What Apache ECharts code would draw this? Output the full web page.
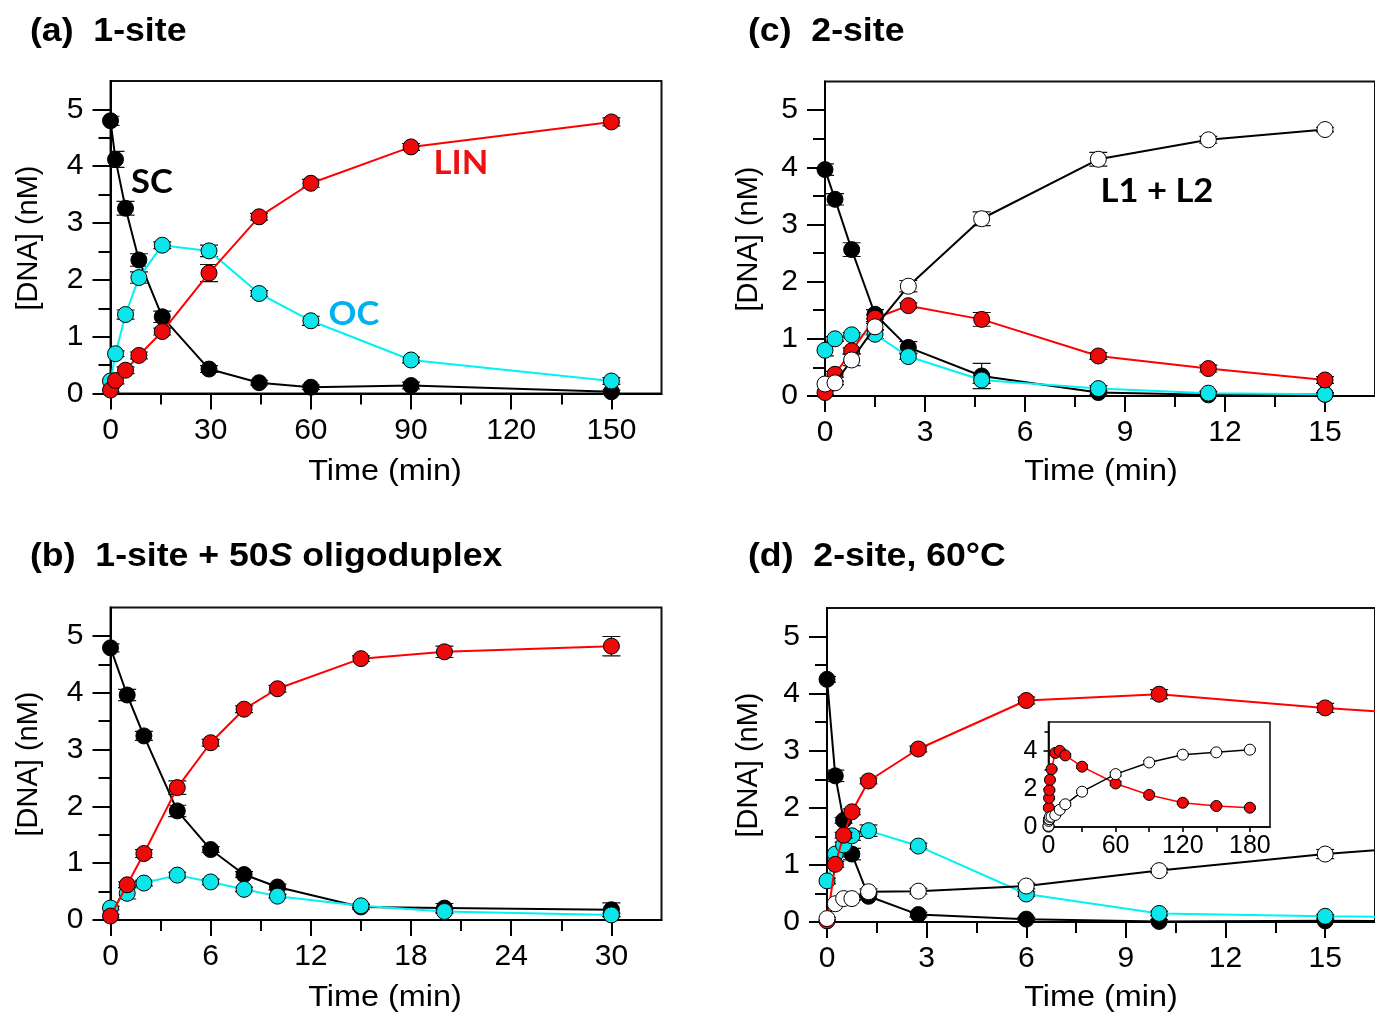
<!DOCTYPE html>
<html><head><meta charset="utf-8">
<script src="https://cdn.jsdelivr.net/npm/echarts@6/dist/echarts.min.js"></script>
<style>html,body{margin:0;padding:0;background:#fff}#c{width:1375px;height:1016px}</style>
</head><body><div id="c"></div>
<script>
// ---------------- DATA ----------------
// (a) 1-site
const tA   = [0, 1.5, 4.5, 8.5, 15.5, 29.5, 44.5, 60, 90, 150];
const scA  = [4.80, 4.12, 3.26, 2.35, 1.35, 0.43, 0.19, 0.11, 0.14, 0.03];
const scAErr = [0.08, 0.14, 0.12, 0.11, 0.10, 0.06, 0.04, 0.04, 0.06, 0.03];
const ocA  = [0.22, 0.70, 1.39, 2.04, 2.61, 2.51, 1.76, 1.28, 0.59, 0.22];
const ocAErr = [0.03, 0.05, 0.08, 0.10, 0.06, 0.10, 0.05, 0.08, 0.05, 0.06];
const linA = [0.06, 0.23, 0.41, 0.67, 1.09, 2.12, 3.11, 3.70, 4.34, 4.78];
const linAErr = [0.03, 0.06, 0.06, 0.06, 0.06, 0.15, 0.06, 0.07, 0.06, 0.07];
// (b) 1-site + 50S oligoduplex
const tB   = [0, 1, 2, 4, 6, 8, 10, 15, 20, 30];
const scB  = [4.79, 3.96, 3.24, 1.92, 1.24, 0.80, 0.58, 0.23, 0.21, 0.18];
const scBErr = [0.07, 0.10, 0.08, 0.10, 0.05, 0.05, 0.05, 0.04, 0.08, 0.12];
const ocB  = [0.21, 0.47, 0.65, 0.79, 0.67, 0.54, 0.42, 0.25, 0.15, 0.09];
const ocBErr = [0.03, 0.10, 0.05, 0.05, 0.05, 0.04, 0.03, 0.03, 0.03, 0.03];
const linB = [0.07, 0.62, 1.17, 2.33, 3.12, 3.71, 4.07, 4.60, 4.72, 4.82];
const linBErr = [0.03, 0.05, 0.07, 0.12, 0.06, 0.06, 0.06, 0.05, 0.10, 0.17];
// (c) 2-site
const tC   = [0, 0.3, 0.8, 1.5, 2.5, 4.7, 8.2, 11.5, 15];
const scC  = [3.96, 3.44, 2.56, 1.43, 0.85, 0.35, 0.06, 0.02, 0.03];
const scCErr = [0.10, 0.10, 0.12, 0.08, 0.10, 0.22, 0.04, 0.03, 0.03];
const ocC  = [0.80, 1.00, 1.07, 1.08, 0.69, 0.28, 0.13, 0.05, 0.03];
const ocCErr = [0.10, 0.04, 0.04, 0.08, 0.05, 0.06, 0.05, 0.03, 0.03];
const linC = [0.06, 0.38, 0.79, 1.36, 1.58, 1.34, 0.70, 0.48, 0.28];
const linCErr = [0.03, 0.05, 0.05, 0.06, 0.05, 0.12, 0.06, 0.06, 0.06];
const l12C = [0.21, 0.23, 0.63, 1.21, 1.92, 3.10, 4.14, 4.48, 4.66];
const l12CErr = [0.03, 0.03, 0.10, 0.06, 0.10, 0.12, 0.12, 0.06, 0.04];
// (d) 2-site, 60°C (main panel shows 0-16.5 min, inset shows 0-180 min)
const tD   = [0, 0.25, 0.5, 0.75, 1.25, 2.75, 6, 10, 15, 30, 60, 90, 120, 150, 180];
const scD  = [4.25, 2.56, 1.78, 1.19, 0.45, 0.13, 0.05, 0.01, 0.02, 0.01];
const scDErr = [0.05, 0.10, 0.05, 0.10, 0.05, 0.04, 0.03, 0.03, 0.03, 0.03];
const ocD  = [0.72, 1.19, 1.35, 1.51, 1.60, 1.33, 0.49, 0.15, 0.10, 0.02];
const ocDErr = [0.05, 0.05, 0.05, 0.08, 0.10, 0.05, 0.04, 0.04, 0.03, 0.03];
const linD = [0.02, 1.01, 1.52, 1.93, 2.47, 3.03, 3.88, 3.99, 3.75, 3.16, 2.28, 1.68, 1.27, 1.10, 1.01];
const linDErr = [0.02, 0.05, 0.05, 0.05, 0.05, 0.05, 0.06, 0.08, 0.08, 0.08, 0.10, 0.08, 0.06, 0.05, 0.05];
const l12D = [0.06, 0.32, 0.41, 0.41, 0.53, 0.54, 0.63, 0.90, 1.19, 1.85, 2.77, 3.38, 3.79, 3.91, 4.05];
const l12DErr = [0.02, 0.03, 0.03, 0.03, 0.05, 0.05, 0.05, 0.04, 0.08, 0.06, 0.10, 0.10, 0.06, 0.05, 0.05];

// tick labels
const yMajor = [0, 1, 2, 3, 4, 5];
const yMinor = [0.5, 1.5, 2.5, 3.5, 4.5];
const xMajorA = [0, 30, 60, 90, 120, 150];
const xMinorA = [15, 45, 75, 105, 135];
const xMajorB = [0, 6, 12, 18, 24, 30];
const xMinorB = [3, 9, 15, 21, 27];
const xMajorCD = [0, 3, 6, 9, 12, 15];
const xMinorCD = [1.5, 4.5, 7.5, 10.5, 13.5];
const xMajorIn = [0, 60, 120, 180];
const xMinorIn = [30, 90, 150];
const yMajorIn = [0, 2, 4];
const yMinorIn = [1, 3, 5];

// ---------------- BUILD ----------------
const FONT = 'Liberation Sans';
const COL = {
  sc:  {line: '#000000', fill: '#000000'},
  oc:  {line: '#00f2f2', fill: '#0ae6ea'},
  lin: {line: '#ff0000', fill: '#ee0a0a'},
  l12: {line: '#000000', fill: '#ffffff'}
};
const grids = [], xAxes = [], yAxes = [], series = [], graphics = [];

function addPanel(p) {
  const gi = grids.length;
  grids.push({left: p.left, top: p.top, width: p.width, height: p.height, show: true,
    borderColor: '#111', borderWidth: p.bw, backgroundColor: '#fff', containLabel: false});
  const ls = {color: '#000', width: p.bw};
  const lab = {color: '#000', fontFamily: FONT, fontSize: p.fs};
  const xi = xAxes.length;
  xAxes.push({type: 'value', gridIndex: gi, min: p.xMin, max: p.xMax, position: 'bottom',
    axisLine: {show: true, onZero: false, lineStyle: ls},
    axisTick: {show: true, inside: false, customValues: p.xMajor, length: p.xMajLen, lineStyle: ls},
    axisLabel: Object.assign({show: true, customValues: p.xMajor, margin: p.xMargin}, lab),
    splitLine: {show: false}});
  xAxes.push({type: 'value', gridIndex: gi, min: p.xMin, max: p.xMax, position: 'bottom',
    axisLine: {show: false},
    axisTick: {show: true, inside: false, customValues: p.xMinor, length: p.xMinLen, lineStyle: ls},
    axisLabel: {show: false}, splitLine: {show: false}});
  const yi = yAxes.length;
  yAxes.push({type: 'value', gridIndex: gi, min: 0, max: 5.5, position: 'left',
    axisLine: {show: true, onZero: false, lineStyle: ls},
    axisTick: {show: true, inside: false, customValues: p.yMajor, length: p.yMajLen, lineStyle: ls},
    axisLabel: Object.assign({show: true, customValues: p.yMajor, margin: p.yMargin}, lab),
    splitLine: {show: false}});
  yAxes.push({type: 'value', gridIndex: gi, min: 0, max: 5.5, position: 'left',
    axisLine: {show: false},
    axisTick: {show: true, inside: false, customValues: p.yMinor, length: p.yMinLen, lineStyle: ls},
    axisLabel: {show: false}, splitLine: {show: false}});
  return {xi, yi};
}

function addLine(ax, ts, vs, errs, col, z, size, lw, cap, xmax) {
  const pts = vs.map((v, i) => [ts[i], v]);
  series.push({type: 'custom', xAxisIndex: ax.xi, yAxisIndex: ax.yi, z: z - 1, silent: true,
    clip: true, animation: false,
    data: vs.map((v, i) => [ts[i], v, errs[i]]).filter(d => d[0] <= xmax),
    encode: {x: 0, y: 1},
    renderItem: function (params, api) {
      const x = api.value(0), y = api.value(1), e = api.value(2);
      const a = api.coord([x, y + e]), b = api.coord([x, y - e]);
      const st = {stroke: '#111', lineWidth: 1.2};
      return {type: 'group', children: [
        {type: 'line', shape: {x1: a[0], y1: a[1], x2: b[0], y2: b[1]}, style: st},
        {type: 'line', shape: {x1: a[0] - cap, y1: a[1], x2: a[0] + cap, y2: a[1]}, style: st},
        {type: 'line', shape: {x1: b[0] - cap, y1: b[1], x2: b[0] + cap, y2: b[1]}, style: st}
      ]};
    }});
  series.push({type: 'line', xAxisIndex: ax.xi, yAxisIndex: ax.yi, z: z, data: pts,
    clip: true, animation: false, silent: true,
    symbol: 'circle', symbolSize: size, showAllSymbol: true,
    lineStyle: {color: col.line, width: lw},
    itemStyle: {color: col.fill, borderColor: '#000', borderWidth: 1}});
}

const common = {fs: 30, bw: 2, xMajLen: 16, xMinLen: 11, yMajLen: 18, yMinLen: 12,
  xMargin: 22, yMargin: 27, yMajor: yMajor, yMinor: yMinor, xMin: 0};

const axA = addPanel(Object.assign({}, common, {left: 110.5, top: 81, width: 551, height: 312.5,
  xMax: 165, xMajor: xMajorA, xMinor: xMinorA}));
const axB = addPanel(Object.assign({}, common, {left: 110.5, top: 607.5, width: 551, height: 312.5,
  xMax: 33, xMajor: xMajorB, xMinor: xMinorB}));
const axC = addPanel(Object.assign({}, common, {left: 825, top: 81.5, width: 556, height: 314.5,
  xMax: 16.5, xMajor: xMajorCD, xMinor: xMinorCD}));
const axD = addPanel(Object.assign({}, common, {left: 827, top: 608, width: 553, height: 314,
  xMax: 16.5, xMajor: xMajorCD, xMinor: xMinorCD}));
const axI = addPanel({fs: 25, bw: 1.6, xMajLen: 5, xMinLen: 5, yMajLen: 5, yMinLen: 4,
  xMargin: 7, yMargin: 11, yMajor: yMajorIn, yMinor: yMinorIn, xMin: 0,
  left: 1048.5, top: 722, width: 221.5, height: 105, xMax: 198, xMajor: xMajorIn, xMinor: xMinorIn});

// panel (a)
addLine(axA, tA, scA, scAErr, COL.sc, 3, 16, 2, 9, 999);
addLine(axA, tA, ocA, ocAErr, COL.oc, 5, 16, 2, 9, 999);
addLine(axA, tA, linA, linAErr, COL.lin, 7, 16, 2, 9, 999);
// panel (b)
addLine(axB, tB, scB, scBErr, COL.sc, 3, 16, 2, 9, 999);
addLine(axB, tB, ocB, ocBErr, COL.oc, 5, 16, 2, 9, 999);
addLine(axB, tB, linB, linBErr, COL.lin, 7, 16, 2, 9, 999);
// panel (c)
addLine(axC, tC, scC, scCErr, COL.sc, 3, 16, 2, 9, 999);
addLine(axC, tC, ocC, ocCErr, COL.oc, 5, 16, 2, 9, 999);
addLine(axC, tC, linC, linCErr, COL.lin, 7, 16, 2, 9, 999);
addLine(axC, tC, l12C, l12CErr, COL.l12, 9, 16, 2, 9, 999);
// panel (d)
addLine(axD, tD, scD, scDErr, COL.sc, 3, 16, 2, 9, 16.5);
addLine(axD, tD, ocD, ocDErr, COL.oc, 5, 16, 2, 9, 16.5);
addLine(axD, tD, linD, linDErr, COL.lin, 7, 16, 2, 9, 16.5);
addLine(axD, tD, l12D, l12DErr, COL.l12, 9, 16, 2, 9, 16.5);
// inset of (d)
addLine(axI, tD, linD, linDErr, COL.lin, 12, 11, 1.5, 6, 999);
addLine(axI, tD, l12D, l12DErr, COL.l12, 14, 11, 1.5, 6, 999);

// ---------------- TEXT ----------------
function txt(x, y, text, font, fill, align, extra) {
  graphics.push(Object.assign({type: 'text', x: x, y: y, silent: true, z: 100,
    style: {text: text, font: font, fill: fill, align: align || 'center', verticalAlign: 'middle'}}, extra || {}));
}
const TITLE = 'bold 33px "Liberation Sans"';
const AXN = '30px "Liberation Sans"';
const AYN = '29px "Liberation Sans"';
const ANN = 'bold 32px Lato';
txt(30, 32, '(a)  1-site', TITLE, '#000', 'left', {scaleX: 1.08});
txt(748, 32, '(c)  2-site', TITLE, '#000', 'left', {scaleX: 1.08});
txt(748, 557, '(d)  2-site, 60°C', TITLE, '#000', 'left', {scaleX: 1.08});
graphics.push({type: 'text', x: 30, y: 557, silent: true, z: 100, scaleX: 1.08,
  style: {text: '{n|(b)  1-site + 50}{i|S}{n| oligoduplex}', align: 'left', verticalAlign: 'middle',
    rich: {
      n: {fontFamily: FONT, fontWeight: 'bold', fontSize: 33, fill: '#000'},
      i: {fontFamily: FONT, fontWeight: 'bold', fontStyle: 'italic', fontSize: 33, fill: '#000'}
    }}});
[[385, 472], [385, 998], [1101, 472], [1101, 998]].forEach(p =>
  txt(p[0], p[1], 'Time (min)', AXN, '#000', 'center', {scaleX: 1.08}));
[[29, 238], [29, 764], [749, 239], [749, 765]].forEach(p =>
  txt(p[0], p[1], '[DNA] (nM)', AYN, '#000', 'center', {rotation: Math.PI / 2}));
txt(152, 183, 'SC', ANN, '#000', 'center', {scaleX: 1.08});
txt(461, 164, 'LIN', ANN, '#ee1111', 'center', {scaleX: 1.08});
txt(354, 315, 'OC', ANN, '#00b0f0', 'center', {scaleX: 1.08});
txt(1157, 192, 'L1 + L2', ANN, '#000', 'center', {scaleX: 1.08});

const chart = echarts.init(document.getElementById('c'), null, {renderer: 'canvas'});
chart.setOption({
  animation: false,
  backgroundColor: '#fff',
  grid: grids, xAxis: xAxes, yAxis: yAxes, series: series, graphic: graphics
});
</script></body></html>
